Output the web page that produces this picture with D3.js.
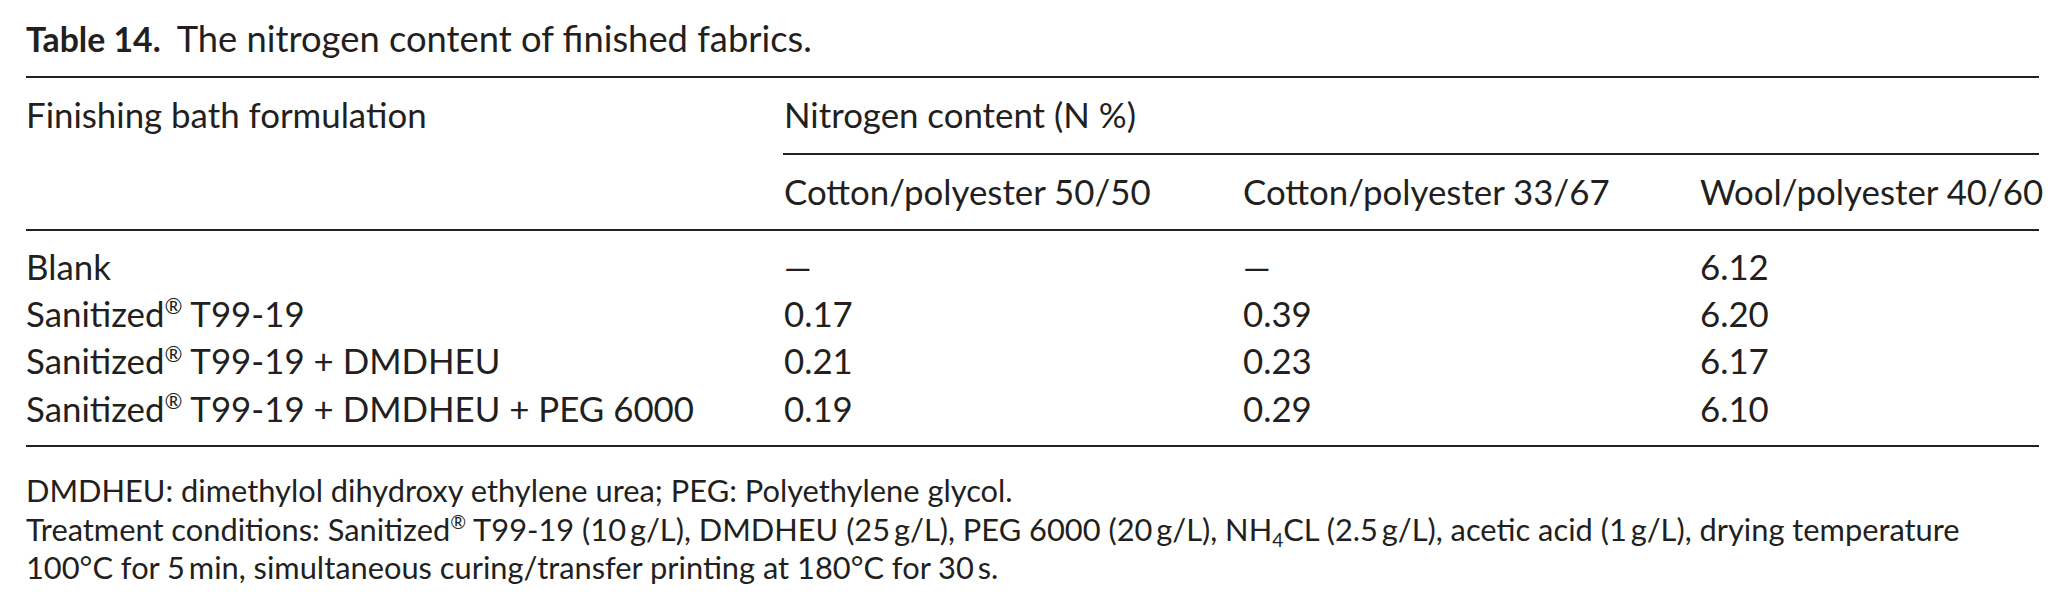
<!DOCTYPE html>
<html>
<head>
<meta charset="utf-8">
<script src="https://cdn.jsdelivr.net/npm/d3@7"></script>
<style>
  html, body { margin: 0; padding: 0; background: #fff; }
  svg text { font-family: Lato, "Noto Sans", sans-serif; fill: #231f20; }
</style>
</head>
<body>
<svg id="table" width="2065" height="614"></svg>
<script>
// table content
var titleLabel = "Table 14.";
var titleText = "The nitrogen content of finished fabrics.";
var stubHeader = "Finishing bath formulation";
var groupHeader = "Nitrogen content (N %)";
var fabrics = ["Cotton/polyester 50/50", "Cotton/polyester 33/67", "Wool/polyester 40/60"];
var formulations = ["Blank", "Sanitized® T99-19", "Sanitized® T99-19 + DMDHEU", "Sanitized® T99-19 + DMDHEU + PEG 6000"];
var cotton5050 = [null, 0.17, 0.21, 0.19];
var cotton3367 = [null, 0.39, 0.23, 0.29];
var wool4060 = [6.12, 6.20, 6.17, 6.10];
// footnotes: pieces are [text, "sup"|"sub"|null]
var footnotes = [
  [["DMDHEU: dimethylol dihydroxy ethylene urea; PEG: Polyethylene glycol.", null]],
  [["Treatment conditions: Sanitized", null], ["®", "sup"], [" T99-19 (10\u2009g/L), DMDHEU (25\u2009g/L), PEG 6000 (20\u2009g/L), NH", null], ["4", "sub"], ["CL (2.5\u2009g/L), acetic acid (1\u2009g/L), drying temperature", null]],
  [["100°C for 5\u2009min, simultaneous curing/transfer printing at 180°C for 30\u2009s.", null]]
];

var svg = d3.select("#table");
var left = 26, right = 2039, colStart = 783;

// width of a string at a given size
function measure(str, weight, size) {
  var t = svg.append("text").attr("font-size", size).attr("font-weight", weight).text(str);
  var w = t.node().getComputedTextLength();
  t.remove();
  return w;
}
// find a font size so that a string gets the wanted width
function fitSize(str, weight, target) {
  return 100 * target / measure(str, weight, 100);
}
var bodySize = fitSize(stubHeader, 400, 391) * 1.025;
var noteSize = fitSize(footnotes[0][0][0], 400, 990) * 0.997;

var cols = d3.scaleOrdinal().domain(fabrics).range([784, 1243, 1700]);
var rows = d3.scalePoint().domain(formulations).range([279.5, 421.5]);
var notes = d3.scalePoint().domain(d3.range(footnotes.length)).range([502, 579]);

function rule(y, x0) {
  svg.append("line")
    .attr("x1", x0).attr("x2", right)
    .attr("y1", y).attr("y2", y)
    .attr("stroke", "#222").attr("stroke-width", 2.2);
}

// write pieces of text, raising or lowering the marked ones
function rich(t, pieces, size) {
  var shift = 0;
  pieces.forEach(function(p) {
    var want = p[1] == "sup" ? -size * 0.36 : p[1] == "sub" ? size * 0.2 : 0;
    var s = t.append("tspan").attr("dy", want - shift).text(p[0]);
    if (p[1]) s.attr("font-size", size * 0.62);
    shift = want;
  });
}

// title: bold label, then the caption ending where the reference does
var labelSize = bodySize * 0.97;
var labelEnd = left + measure(titleLabel, 700, labelSize);
var titleX = labelEnd + 16;
var titleSize = fitSize(titleText, 400, 812 - titleX);
svg.append("text").attr("x", left).attr("y", 52)
  .attr("font-size", labelSize).attr("font-weight", 700).text(titleLabel);
svg.append("text").attr("x", titleX).attr("y", 52)
  .attr("font-size", titleSize).text(titleText);

rule(77, left);
rule(154, colStart);
rule(230, left);
rule(446, left);

// headers
svg.append("text").attr("x", left).attr("y", 128).attr("font-size", bodySize).text(stubHeader);
svg.append("text").attr("x", cols(fabrics[0])).attr("y", 128).attr("font-size", bodySize).text(groupHeader);
svg.selectAll("text.fabric").data(fabrics).enter().append("text")
  .attr("class", "fabric")
  .attr("x", function(d) { return cols(d); })
  .attr("y", 205)
  .attr("font-size", bodySize)
  .text(function(d) { return d; });

// stub column, ® as superscript
svg.selectAll("text.stub").data(formulations).enter().append("text")
  .attr("class", "stub")
  .attr("x", left)
  .attr("y", function(d) { return rows(d); })
  .attr("font-size", bodySize)
  .each(function(d) {
    var parts = d.split("®");
    var pieces = [[parts[0], null]];
    if (parts.length > 1) pieces.push(["®", "sup"], [parts[1], null]);
    rich(d3.select(this), pieces, bodySize);
  });

// values
var series = [cotton5050, cotton3367, wool4060];
series.forEach(function(vals, i) {
  svg.selectAll("text.val" + i).data(vals).enter().append("text")
    .attr("class", "val" + i)
    .attr("x", cols(fabrics[i]))
    .attr("y", function(d, j) { return rows(formulations[j]); })
    .attr("font-size", bodySize)
    .text(function(d) { return d == null ? "\u2014" : d.toFixed(2); });
});

// footnotes
footnotes.forEach(function(line, i) {
  var t = svg.append("text").attr("x", left).attr("y", notes(i)).attr("font-size", noteSize);
  rich(t, line, noteSize);
});
</script>
</body>
</html>
